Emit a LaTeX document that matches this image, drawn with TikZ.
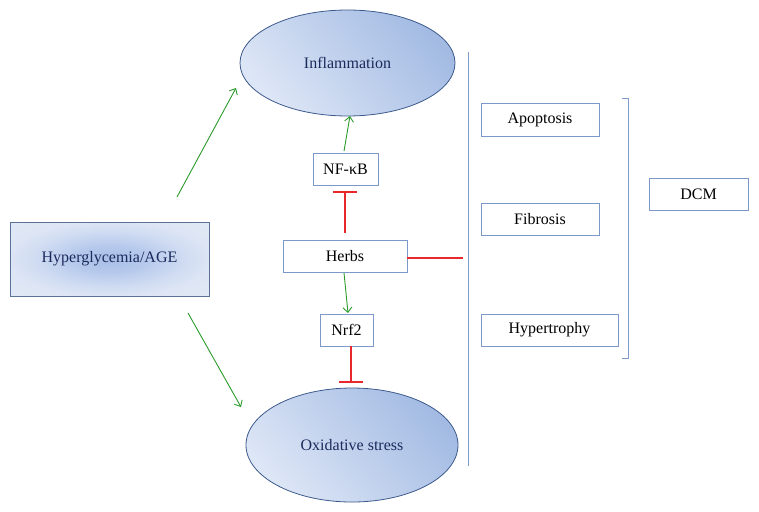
\documentclass[tikz,border=0pt]{standalone}
\usepackage{fontspec}
\setmainfont{Liberation Serif}
\usetikzlibrary{shapes.geometric,arrows.meta}
\definecolor{boxblue}{HTML}{7B98C8}
\definecolor{ellborder}{HTML}{3D5A8C}
\definecolor{elllight}{HTML}{DDE6F6}
\definecolor{elldark}{HTML}{A3BBE3}
\definecolor{hypborder}{HTML}{5C7398}
\definecolor{navy}{HTML}{1B2A5C}
\definecolor{arrgreen}{HTML}{2A9A2A}
\definecolor{inhred}{HTML}{E8282C}
\definecolor{lineblue}{HTML}{7D9CCC}
\definecolor{hypA}{HTML}{A8BEE6}
\definecolor{hypB}{HTML}{B6C9EC}
\definecolor{hypC}{HTML}{D0DCF2}
\definecolor{hypD}{HTML}{DEE6F5}
\definecolor{hypE}{HTML}{E4EBF7}
\pgfdeclareradialshading{hypshade}{\pgfpoint{0bp}{0bp}}{%
  color(0bp)=(hypA);
  color(9bp)=(hypB);
  color(19bp)=(hypC);
  color(26bp)=(hypD);
  color(50bp)=(hypE)}
\tikzset{
  txt/.style={font=\fontsize{16}{19}\selectfont},
  plainbox/.style={txt, draw=boxblue, line width=0.9pt, fill=white, rectangle, inner sep=0pt, text=black},
  ellnode/.style={txt, ellipse, draw=ellborder, line width=0.8pt, inner sep=0pt, text=navy,
    top color=elldark, bottom color=elllight, shading angle=-50},
  hypbox/.style={txt, rectangle, draw=hypborder, line width=0.9pt, inner sep=0pt, text=navy,
    shading=hypshade},
  act/.style={color=arrgreen, line width=0.9pt, -{Straight Barb[length=5pt,width=9pt]}},
  inh/.style={color=inhred, line width=1.3pt, -{Bar[width=24pt,line width=1.6pt]}},
  inhline/.style={color=inhred, line width=1.2pt},
  vline/.style={color=lineblue, line width=0.9pt}
}
\begin{document}
\begin{tikzpicture}[x=1pt,y=-1pt]
\useasboundingbox (0,0) rectangle (759,511);
% nodes
\node[hypbox, minimum width=199pt, minimum height=74pt] (hyp) at (109.5,259) {Hyperglycemia/AGE};
\node[ellnode, minimum width=215pt, minimum height=106pt] (infl) at (347.5,63) {Inflammation};
\node[ellnode, minimum width=212pt, minimum height=114pt] (ox) at (352,445) {Oxidative stress};
\node[plainbox, minimum width=65pt, minimum height=32pt] (nfkb) at (345.5,169) {NF-κB};
\node[plainbox, minimum width=124pt, minimum height=32pt] (herbs) at (345,256) {Herbs};
\node[plainbox, minimum width=53pt, minimum height=32pt] (nrf2) at (346.5,330) {Nrf2};
\node[plainbox, minimum width=118pt, minimum height=33pt] (apo) at (540,119.5) {Apoptosis};
\node[plainbox, minimum width=118pt, minimum height=32pt] (fib) at (540,219) {Fibrosis};
\node[plainbox, minimum width=137pt, minimum height=32pt] (hyt) at (549.5,330) {Hypertrophy};
\node[plainbox, minimum width=99pt, minimum height=32pt] (dcm) at (698.5,194) {DCM};
% coordinates
\coordinate (h1s) at (177,197);
\coordinate (h1e) at (236,88);
\coordinate (h2s) at (188,313);
\coordinate (h2e) at (241,407);
\coordinate (nfs) at (344,151);
\coordinate (nfe) at (350,116);
\coordinate (hbs) at (345,233);
\coordinate (hbe) at (345,191);
\coordinate (nrs) at (344,273);
\coordinate (nre) at (348,313);
\coordinate (oxs) at (351,346);
\coordinate (oxe) at (351,383);
\coordinate (vr) at (463,258);
\coordinate (vtop) at (468,52);
\coordinate (vbot) at (468,466);
\coordinate (b1) at (622,98);
\coordinate (b2) at (628,98);
\coordinate (b3) at (628,358);
\coordinate (b4) at (622,358);
% connectors
\draw[act] (h1s) -- (h1e);
\draw[act] (h2s) -- (h2e);
\draw[act] (nfs) -- (nfe);
\draw[act] (nrs) -- (nre);
\draw[inh] (hbs) -- (hbe);
\draw[inh] (oxs) -- (oxe);
\draw[inhline] (herbs.east |- vr) -- (vr);
\draw[vline] (vtop) -- (vbot);
\draw[vline] (b1) -- (b2) -- (b3) -- (b4);
\end{tikzpicture}
\end{document}
